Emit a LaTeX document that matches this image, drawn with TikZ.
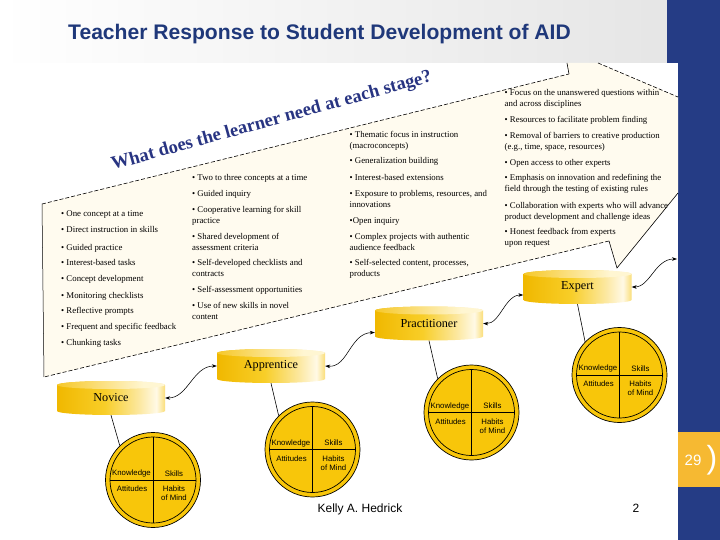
\documentclass[tikz,border=0pt]{standalone}
\usepackage{fontspec}
\setmainfont{Liberation Serif}
\newfontfamily\arialf{Liberation Sans}
\usetikzlibrary{arrows.meta}
\definecolor{navy}{RGB}{37,60,133}
\definecolor{titleblue}{RGB}{31,56,122}
\definecolor{headblue}{RGB}{40,52,130}
\definecolor{cream}{RGB}{255,251,239}
\definecolor{cirgold}{RGB}{248,198,10}
\definecolor{orangebox}{RGB}{246,185,50}
\definecolor{cA}{RGB}{240,184,0}
\definecolor{cB}{RGB}{248,206,40}
\definecolor{cC}{RGB}{252,232,160}
\definecolor{cD}{RGB}{255,249,230}
\definecolor{cE}{RGB}{250,222,120}
\definecolor{tA}{RGB}{246,200,40}
\definecolor{tB}{RGB}{255,246,210}
\pgfdeclarehorizontalshading{cylsh}{100bp}{color(0bp)=(cA); color(25bp)=(cA); color(47bp)=(cB); color(63bp)=(cC); color(71bp)=(cD); color(75bp)=(cE); color(100bp)=(cE)}
\pgfdeclarehorizontalshading{topsh}{100bp}{color(0bp)=(tA); color(25bp)=(tA); color(65bp)=(tB); color(75bp)=(tB); color(100bp)=(tB)}
\newcommand\aidcyl[4]{%
  \shade[shading=cylsh] (#2-54,#3-13) -- (#2-54,#3+13)
     arc[start angle=180,end angle=360,x radius=54pt,y radius=4pt]
     -- (#2+54,#3-13)
     arc[start angle=0,end angle=180,x radius=54pt,y radius=4pt] -- cycle;
  \shade[shading=topsh] (#2,#3-13) ellipse[x radius=54pt,y radius=4pt];
  \node[cyltext] (#1) at (#2,#3) {#4};
}
\newcommand\aidcirc[3]{%
  \node[circle, draw, line width=0.7pt, fill=cirgold, minimum size=95pt, inner sep=0pt] (#1) at (#2,#3) {};
  \draw[line width=0.7pt] (#2,#3) circle[radius=43pt];
  \draw[line width=0.7pt] (#2-43,#3) -- (#2+43,#3) (#2,#3-43) -- (#2,#3+43);
  \node[lab] (#1k) at (#2-21.5,#3-6.5) {Knowledge};
  \node[lab] (#1s) at (#2+21,#3-6.5) {Skills};
  \node[lab] (#1a) at (#2-21,#3+9) {Attitudes};
  \node[lab] (#1h) at (#2+21,#3+13.7) {Habits\\of Mind};
}
\begin{document}
\begin{tikzpicture}[x=1pt,y=-1pt,
  body/.style={font=\fontsize{8.8}{11}\selectfont, anchor=base west, inner sep=0pt},
  lab/.style={font=\arialf\fontsize{7.8}{9}\selectfont, inner sep=0pt, align=center},
  cyltext/.style={font=\fontsize{12.2}{14}\selectfont, inner sep=0pt, minimum width=108pt, minimum height=34pt},
  dsh/.style={dash pattern=on 4pt off 2pt, line width=0.6pt},
  conn/.style={line width=0.6pt},
  dbl/.style={{Stealth[length=5pt,width=3.6pt]}-{Stealth[length=5pt,width=3.6pt]}, line width=0.55pt}
]
\useasboundingbox (0,0) rectangle (720,540);
% slide background
\fill[white] (0,0) rectangle (720,540);
\shade[left color=white, right color=black!10] (0,0) rectangle (667,63);
\fill[navy] (667,0) rectangle (720,540);
\fill[white] (0,63) rectangle (678,540);
\fill[orangebox] (678,432) rectangle (720,487);
\node[font=\arialf\fontsize{15}{18}\selectfont, text=white, inner sep=0pt] (pnum) at (693,460.5) {29};
\node[font=\arialf\fontsize{32}{36}\selectfont, text=white, inner sep=0pt] (brk) at (712,460) {)};
% title
\node[anchor=base west, font=\arialf\bfseries\fontsize{21.1}{24}\selectfont, text=titleblue, inner sep=0pt] (title) at (68,40) {Teacher Response to Student Development of AID};
% cream area
\fill[cream] (44,377) -- (42,204) -- (569,74) -- (567,63) -- (598,63) -- (678,97) -- (678,193) -- (617,268) -- (609,241) -- cycle;
\draw[dsh] (42,204) -- (569,74);
\draw[line width=0.6pt] (569,74) -- (567,63);
\draw[dsh] (598,63) -- (678,97);
\draw[line width=0.6pt] (678,193) -- (617,268) -- (609,241);
\draw[dsh] (609,241) -- (44,377);
\draw[line width=0.5pt] (44,377) -- (42,204);
% heading
\node[anchor=base west, rotate=15.5, font=\bfseries\fontsize{18.5}{22}\selectfont, text=headblue, inner sep=0pt] (question) at (113,170) {What does the learner need at each stage?};
% column 1
\foreach \yy/\txt [count=\i] in {217/{• One concept at a time}, 233/{• Direct instruction in skills}, 250/{• Guided practice}, 265.5/{• Interest-based tasks}, 281.5/{• Concept development}, 298/{• Monitoring checklists}, 313.5/{• Reflective prompts}, 329/{• Frequent and specific feedback}, 345/{• Chunking tasks}}
  \node[body] (a\i) at (61,\yy) {\txt};
% column 2
\foreach \yy/\txt [count=\i] in {181/{• Two to three concepts at a time}, 196.5/{• Guided inquiry}, 213/{• Cooperative learning for skill}, 224/{practice}, 239.5/{• Shared development of}, 250.5/{assessment criteria}, 265.5/{• Self-developed checklists and}, 276.5/{contracts}, 292.5/{• Self-assessment opportunities}, 308/{• Use of new skills in novel}, 319/{content}}
  \node[body] (b\i) at (192,\yy) {\txt};
% column 3
\foreach \yy/\txt [count=\i] in {137.5/{• Thematic focus in instruction}, 148.5/{(macroconcepts)}, 164/{• Generalization building}, 180.5/{• Interest-based extensions}, 196.5/{• Exposure to problems, resources, and}, 207.5/{innovations}, 223/{•Open inquiry}, 239.5/{• Complex projects with authentic}, 250.5/{audience feedback}, 265/{• Self-selected content, processes,}, 276/{products}}
  \node[body] (c\i) at (349.5,\yy) {\txt};
% column 4
\foreach \yy/\txt [count=\i] in {96/{• Focus on the unanswered questions within}, 107/{and across disciplines}, 123/{• Resources to facilitate problem finding}, 139/{• Removal of barriers to creative production}, 150/{(e.g., time, space, resources)}, 165.5/{• Open access to other experts}, 181/{• Emphasis on innovation and redefining the}, 192/{field through the testing of existing rules}, 208/{• Collaboration with experts who will advance}, 219/{product development and challenge ideas}, 234/{• Honest feedback from experts}, 245/{upon request}}
  \node[body] (d\i) at (504.5,\yy) {\txt};
% stages
\aidcyl{novice}{111}{398}{Novice}
\aidcyl{apprentice}{271}{366}{Apprentice}
\aidcyl{practitioner}{429}{323.5}{Practitioner}
\aidcyl{expert}{577.5}{287}{Expert}
% circles
\aidcirc{ncirc}{153}{480}
\aidcirc{acirc}{312.5}{449.5}
\aidcirc{pcirc}{471.5}{412.5}
\aidcirc{ecirc}{619.5}{375}
% connectors
\draw[conn] (novice.south) -- (ncirc.134);
\draw[conn] (apprentice.south) -- (acirc.135);
\draw[conn] (practitioner.south) -- (pcirc.135);
\draw[conn] (expert.south) -- (ecirc.136);
\coordinate (rim) at (677,259);
\draw[dbl] (novice.east) .. controls (188,398) and (193,366) .. (apprentice.west);
\draw[dbl] (apprentice.east) .. controls (348,368) and (350,333) .. ([yshift=-9pt]practitioner.west);
\draw[dbl] (practitioner.east) .. controls (500,324) and (505,295) .. ([yshift=-8pt]expert.west);
\draw[dbl] (expert.east) .. controls (650,287) and (655,259) .. (rim);
% footer
\node[anchor=base, font=\arialf\fontsize{12}{14}\selectfont, inner sep=0pt] (author) at (360,512.5) {Kelly A. Hedrick};
\node[anchor=base, font=\arialf\fontsize{12}{14}\selectfont, inner sep=0pt] (slideno) at (636,512.5) {2};
\end{tikzpicture}
\end{document}
